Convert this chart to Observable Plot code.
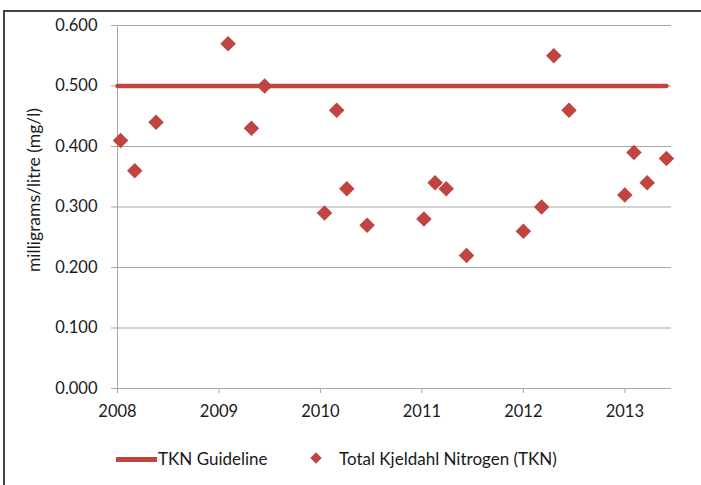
<!DOCTYPE html>
<html>
<head>
<meta charset="utf-8">
<script src="https://cdn.jsdelivr.net/npm/d3@7"></script>
<script src="https://cdn.jsdelivr.net/npm/@observablehq/plot@0.6"></script>
<style>
  html, body { margin: 0; padding: 0; background: #fff; }
  #wrap { position: relative; width: 701px; height: 485px; overflow: hidden; font-family: Lato, "Open Sans", sans-serif; color: #1a1a1a; }
  #frame { position: absolute; left: 3px; top: 10px; width: 760px; height: 520px; border-top: 2px solid #444; border-left: 2px solid #444; }
  #chart { position: absolute; left: 0; top: 0; }
  #ylab { position: absolute; left: 33px; top: 190px; transform: translate(-50%, -50%) rotate(-90deg); white-space: nowrap; font-size: 17.5px; }
  .leg { position: absolute; top: 449px; font-size: 17px; line-height: 20px; white-space: nowrap; }
  .sw-line { position: absolute; width: 41px; height: 4.5px; background: #c0443f; }
  .sw-dia { position: absolute; width: 8px; height: 8px; background: #c0443f; transform: rotate(45deg); }
</style>
</head>
<body>
<div id="wrap">
  <div id="frame"></div>
  <div id="chart"></div>
  <div id="ylab">milligrams/litre (mg/l)</div>
  <div class="sw-line" style="left:116px; top:457px;"></div>
  <div class="leg" style="left:158px;">TKN Guideline</div>
  <div class="sw-dia" style="left:312px; top:454px;"></div>
  <div class="leg" style="left:339px;">Total Kjeldahl Nitrogen (TKN)</div>
</div>
<script>
// Sample dates as decimal years
const sampleDates = [
  2008.03, 2008.17, 2008.38,
  2009.09, 2009.32, 2009.45,
  2010.04, 2010.16, 2010.26, 2010.46,
  2011.02, 2011.13, 2011.24, 2011.44,
  2012.00, 2012.18, 2012.30, 2012.45,
  2013.00, 2013.09, 2013.22, 2013.41
];
const tknValues = [
  0.41, 0.36, 0.44,
  0.57, 0.43, 0.50,
  0.29, 0.46, 0.33, 0.27,
  0.28, 0.34, 0.33, 0.22,
  0.26, 0.30, 0.55, 0.46,
  0.32, 0.39, 0.34, 0.38
];
const guidelineValue = 0.5;
const guidelineRange = [2008, 2013.41];
const xTicks = [2008, 2009, 2010, 2011, 2012, 2013];
const yTicks = [0, 0.1, 0.2, 0.3, 0.4, 0.5, 0.6];

const points = sampleDates.map((d, i) => ({date: d, value: tknValues[i]}));
const guide = guidelineRange.map(d => ({date: d, value: guidelineValue}));

const red = "#c0443f";
const grey = "#a6a6a6";

const chart = Plot.plot({
  width: 701,
  height: 440,
  marginLeft: 117,
  marginRight: 30,
  marginTop: 25,
  marginBottom: 52,
  style: {fontFamily: "Lato, 'Open Sans', sans-serif", fontSize: "16px", color: "#1a1a1a", background: "transparent"},
  x: {domain: [2008, 2013.46]},
  y: {domain: [0, 0.6]},
  marks: [
    Plot.gridY(yTicks, {stroke: grey, strokeOpacity: 1, strokeWidth: 1}),
    Plot.ruleX([2008], {stroke: grey, strokeWidth: 1}),
    Plot.ruleY([0], {stroke: grey, strokeWidth: 1}),
    Plot.axisY(yTicks, {tickSize: 6, tickPadding: 14, stroke: grey, fill: "#1a1a1a", tickFormat: d3.format(".3f"), label: null, fontSize: 16.5}),
    Plot.axisX(xTicks, {tickSize: 5, tickPadding: 12, stroke: grey, fill: "#1a1a1a", tickFormat: d3.format("d"), label: null, fontSize: 16.5}),
    Plot.line(guide, {x: "date", y: "value", stroke: red, strokeWidth: 4.5}),
    Plot.dot(points, {x: "date", y: "value", symbol: "diamond2", r: 7, fill: red, stroke: "none"})
  ]
});
document.getElementById("chart").appendChild(chart);
</script>
</body>
</html>
